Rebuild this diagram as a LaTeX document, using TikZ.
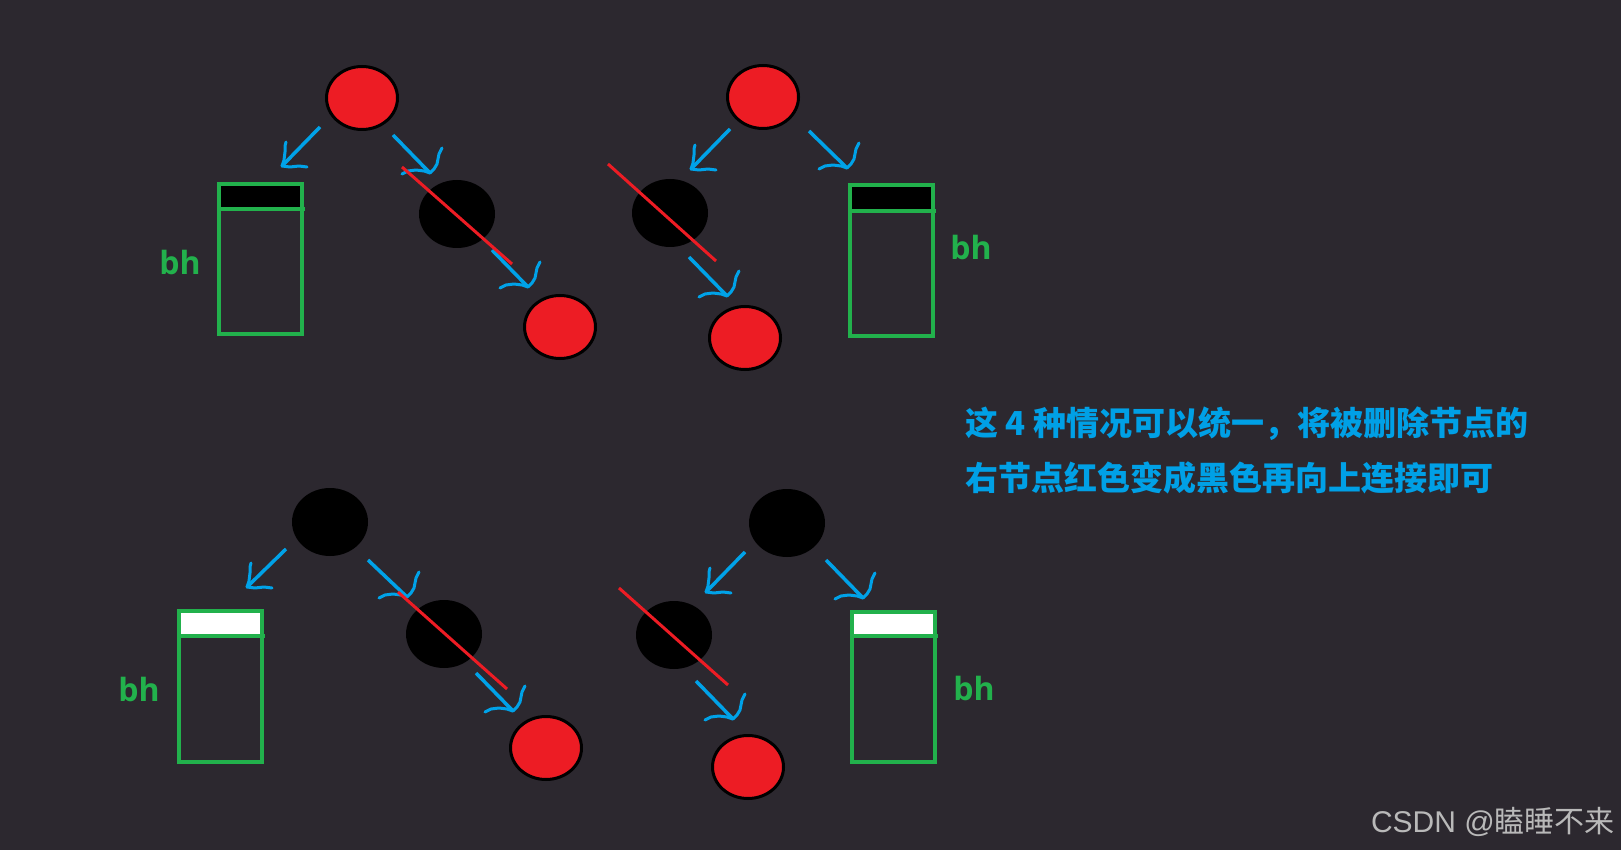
\documentclass[tikz,border=0pt]{standalone}
\usepackage{fontspec}
\newfontfamily\cjk{Noto Sans CJK SC}
\newfontfamily\bhfont{Open Sans}
\newfontfamily\wmlatin{Liberation Sans}
\usetikzlibrary{shapes.geometric}
\definecolor{bg}{RGB}{44,40,47}
\definecolor{pred}{RGB}{237,28,36}
\definecolor{pblue}{RGB}{0,162,232}
\definecolor{pgreen}{RGB}{34,177,76}
\definecolor{txtblue}{RGB}{0,160,230}
\definecolor{wm}{RGB}{185,185,185}
\tikzset{
  rnode/.style={ellipse, draw=black, line width=3pt, fill=pred, minimum width=71pt, minimum height=63pt, inner sep=0pt, outer sep=0pt},
  bnode/.style={ellipse, fill=black, minimum width=76pt, minimum height=68pt, inner sep=0pt, outer sep=0pt},
  shaft/.style={pblue, line width=3.5pt},
  hook/.style={pblue, line width=3pt, line cap=round, line join=round},
  cut/.style={pred, line width=3pt},
  bhbox/.style={draw=pgreen, line width=3.2pt},
  bhlabel/.style={text=pgreen, font=\bhfont\bfseries\fontsize{32}{36}\selectfont, inner sep=0pt},
  note/.style={anchor=west, inner sep=0pt, text=txtblue, font=\cjk\bfseries\fontsize{33}{38}\selectfont},
}
% down-right hand-drawn arrow: from #1 to #2
\newcommand\arrDR[2]{%
  \draw[shaft] (#1) -- (#2);
  \draw[hook] (#2) -- ++(4,-4) -- ++(3,-5) -- ++(1,-5) -- ++(1,-5) -- ++(3,-6);
  \draw[hook] (#2) -- ++(-6,-2) -- ++(-8,-1) -- ++(-8,1) -- ++(-6,3);
}
% down-left hand-drawn arrow
\newcommand\arrDL[2]{%
  \draw[shaft] (#1) -- (#2);
  \draw[hook] (#2) -- ++(2,-6) -- ++(1,-8) -- ++(0,-6) -- ++(1,-4);
  \draw[hook] (#2) -- ++(8,1) -- ++(9,-1) -- ++(8,1);
}
% bh box
\newcommand\bhrect[6]{%
  \fill[#6] (#2,#3) rectangle (#4,#5);
  \draw[bhbox] (#2,#3) rectangle (#4,#1);
  \draw[pgreen, line width=3.2pt] (#2-1,#5) -- (#4+3,#5);
}
\begin{document}
\begin{tikzpicture}[x=1pt,y=-1pt]
\fill[bg] (0,0) rectangle (1621,850);
\useasboundingbox (0,0) rectangle (1621,850);

% ---------- panel 1 ----------
\node[rnode] (r1) at (362,98) {};
\node[bnode] (b1) at (457,214) {};
\node[rnode] (c1) at (560,327) {};
\coordinate (a1s) at (320,127); \coordinate (a1t) at (282,166);
\coordinate (a2s) at (393,135); \coordinate (a2t) at (430,173);
\coordinate (a3s) at (492,250); \coordinate (a3t) at (528,287);
\arrDL{a1s}{a1t}
\arrDR{a2s}{a2t}
\arrDR{a3s}{a3t}
\bhrect{334}{219}{184}{302}{209}{black}
\node[bhlabel] (bh1) at (180,262) {bh};
\coordinate (x1s) at (402,167); \coordinate (x1t) at (512,264);
\draw[cut] (x1s) -- (x1t);

% ---------- panel 2 ----------
\node[rnode] (r2) at (763,97) {};
\node[bnode] (b2) at (670,213) {};
\node[rnode] (c2) at (745,338) {};
\coordinate (d1s) at (730,129); \coordinate (d1t) at (691,169);
\coordinate (d2s) at (809,131); \coordinate (d2t) at (847,168);
\coordinate (d3s) at (689,257); \coordinate (d3t) at (727,296);
\arrDL{d1s}{d1t}
\arrDR{d2s}{d2t}
\arrDR{d3s}{d3t}
\bhrect{336}{850}{185}{933}{211}{black}
\node[bhlabel] (bh2) at (971,247) {bh};
\coordinate (x2s) at (608,164); \coordinate (x2t) at (716,261);
\draw[cut] (x2s) -- (x2t);

% ---------- panel 3 ----------
\node[bnode] (r3) at (330,522) {};
\node[bnode] (b3) at (444,634) {};
\node[rnode] (c3) at (546,748) {};
\coordinate (e1s) at (286,549); \coordinate (e1t) at (247,587);
\coordinate (e2s) at (368,560); \coordinate (e2t) at (407,597);
\coordinate (e3s) at (476,673); \coordinate (e3t) at (513,711);
\arrDL{e1s}{e1t}
\arrDR{e2s}{e2t}
\arrDR{e3s}{e3t}
\bhrect{762}{179}{611}{262}{636}{white}
\node[bhlabel] (bh3) at (139,689) {bh};
\coordinate (x3s) at (398,592); \coordinate (x3t) at (507,689);
\draw[cut] (x3s) -- (x3t);

% ---------- panel 4 ----------
\node[bnode] (r4) at (787,523) {};
\node[bnode] (b4) at (674,635) {};
\node[rnode] (c4) at (748,767) {};
\coordinate (f1s) at (745,552); \coordinate (f1t) at (706,592);
\coordinate (f2s) at (826,560); \coordinate (f2t) at (863,598);
\coordinate (f3s) at (696,681); \coordinate (f3t) at (733,719);
\arrDL{f1s}{f1t}
\arrDR{f2s}{f2t}
\arrDR{f3s}{f3t}
\bhrect{762}{852}{612}{935}{636}{white}
\node[bhlabel] (bh4) at (974,688) {bh};
\coordinate (x4s) at (619,588); \coordinate (x4t) at (728,685);
\draw[cut] (x4s) -- (x4t);

% ---------- text ----------
\node[note] (t1) at (965,424) {这 4 种情况可以统一，将被删除节点的};
\node[note] (t2) at (965,478) {右节点红色变成黑色再向上连接即可};
\node[anchor=east, inner sep=0pt, text=wm, font=\cjk\fontsize{30}{34}\selectfont] (wm) at (1615,822) {{\wmlatin CSDN @}瞌睡不来};
\end{tikzpicture}
\end{document}
